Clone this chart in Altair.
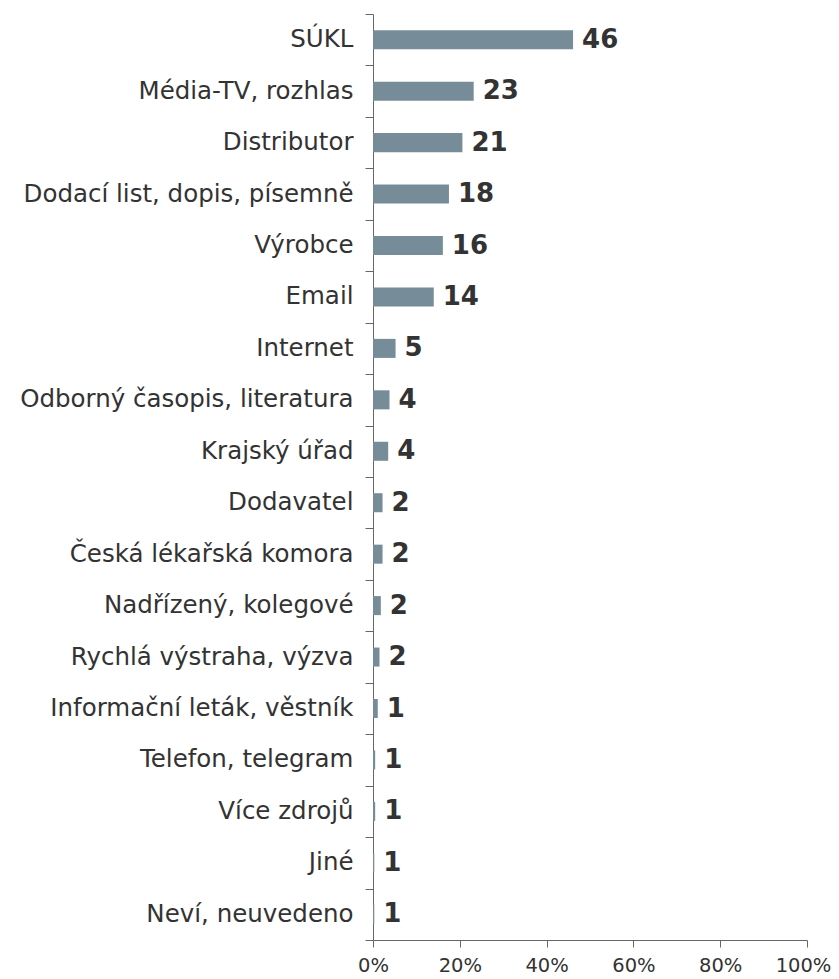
import altair as alt
import pandas as pd

categories = [
    "SÚKL", "Média-TV, rozhlas", "Distributor", "Dodací list, dopis, písemně",
    "Výrobce", "Email", "Internet", "Odborný časopis, literatura", "Krajský úřad",
    "Dodavatel", "Česká lékařská komora", "Nadřízený, kolegové",
    "Rychlá výstraha, výzva", "Informační leták, věstník", "Telefon, telegram",
    "Více zdrojů", "Jiné", "Neví, neuvedeno",
]
shares = [46.1, 23.2, 20.6, 17.5, 16.1, 14.0, 5.2, 3.8, 3.5, 2.2, 2.2, 1.8, 1.5,
          1.1, 0.5, 0.5, 0.3, 0.3]
labels = ["46", "23", "21", "18", "16", "14", "5", "4", "4", "2", "2", "2", "2",
          "1", "1", "1", "1", "1"]
x_ticks = [0, 0.2, 0.4, 0.6, 0.8, 1.0]

df = pd.DataFrame({
    "cat": categories,
    "share": [s / 100 for s in shares],
    "label": labels,
})

FONT = "DejaVu Sans"
AXIS_COLOR = "#666666"

y_enc = alt.Y(
    "cat:N", sort=categories, title=None,
    scale=alt.Scale(paddingInner=0, paddingOuter=0),
    axis=alt.Axis(
        tickBand="extent", tickSize=8, tickColor=AXIS_COLOR, domainColor=AXIS_COLOR,
        labelFont=FONT, labelFontSize=24.5, labelColor="#333333", labelPadding=12,
        labelLimit=400,
    ),
)
x_enc = alt.X(
    "share:Q", title=None,
    scale=alt.Scale(domain=[0, 1], nice=False),
    axis=alt.Axis(
        values=x_ticks, format=".0%", grid=False, tickSize=7, labelFlush=False,
        labelOffset={"condition": {"test": "datum.value == 1", "value": -4}, "value": 0},
        tickColor=AXIS_COLOR, domainColor=AXIS_COLOR,
        labelFont=FONT, labelFontSize=19.5, labelColor="#333333", labelPadding=9,
    ),
)

bars = alt.Chart(df).mark_bar(
    height=alt.RelativeBandSize(0.37), color="#778c99"
).encode(x=x_enc, y=y_enc)

text = alt.Chart(df).mark_text(
    align="left", baseline="middle", dx=9, font=FONT, fontSize=26,
    fontWeight="bold", color="#333333",
).encode(x="share:Q", y=alt.Y("cat:N", sort=categories), text="label:N")

chart = (bars + text).properties(
    width=434, height=926,
    autosize="none",
    padding={"left": 365, "top": 6, "right": 24, "bottom": 37},
).configure_view(stroke=None)

chart.save("out.html", embed_options={"renderer": "svg", "actions": False})
